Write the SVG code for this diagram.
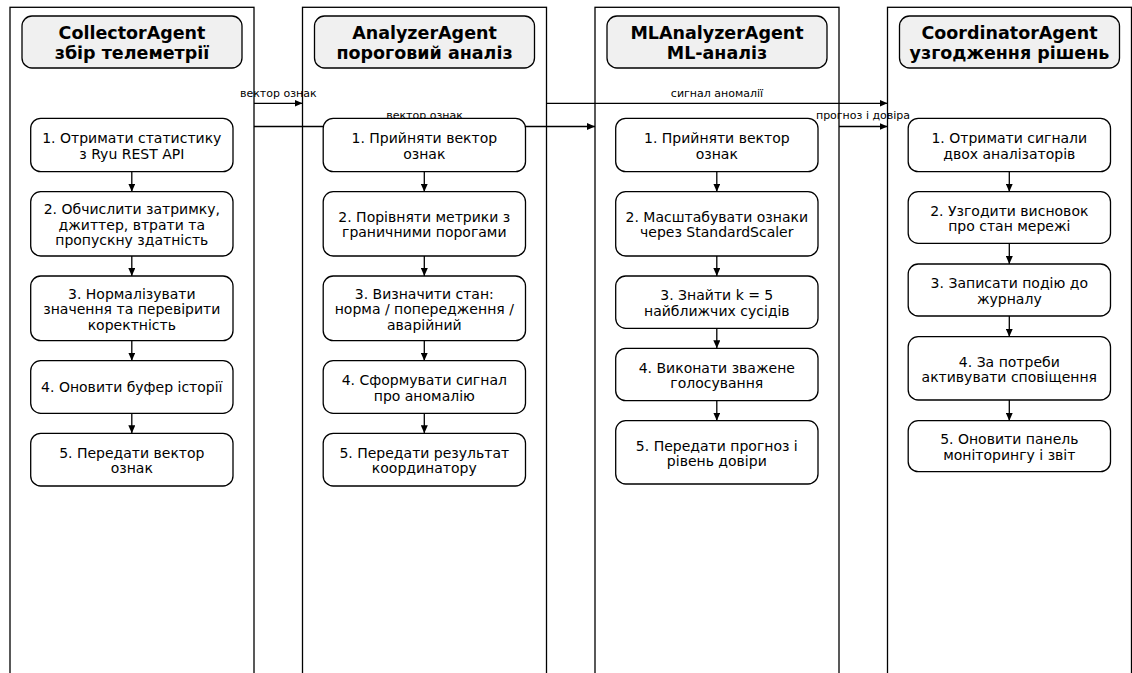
<svg xmlns="http://www.w3.org/2000/svg" width="1132" height="673" viewBox="0 0 1132 673">
  <style>
    .lane { fill: none; stroke: #000; stroke-width: 1.3; }
    .head { fill: #f0f0f0; stroke: #000; stroke-width: 1.3; }
    .step { fill: #fff; stroke: #000; stroke-width: 1.3; }
    .htxt { font-family: "DejaVu Sans", sans-serif; font-weight: bold; font-size: 17.5px; text-anchor: middle; fill: #000; }
    .stxt { font-family: "DejaVu Sans", sans-serif; font-size: 14px; text-anchor: middle; fill: #000; }
    .ltxt { font-family: "DejaVu Sans", sans-serif; font-size: 11px; text-anchor: middle; fill: #000; }
    .flow { fill: none; stroke: #000; stroke-width: 1.3; marker-end: url(#arr); }
  </style>
  <defs>
    <marker id="arr" markerUnits="userSpaceOnUse" markerWidth="8" markerHeight="7" refX="8" refY="3.5" orient="auto">
      <path d="M0,0 L8,3.5 L0,7 Z" fill="#000"/>
    </marker>
  </defs>
  <rect width="1132" height="673" fill="#fff"/>

  <!-- swimlane frames -->
  <g id="lanes">
    <rect class="lane" x="10" y="7.3" width="244" height="700"/>
    <rect class="lane" x="302.5" y="7.3" width="244" height="700"/>
    <rect class="lane" x="595" y="7.3" width="244" height="700"/>
    <rect class="lane" x="887.5" y="7.3" width="244" height="700"/>
  </g>

  <!-- messages between agents and step-to-step flow -->
  <g id="connectors">
    <path class="flow" d="M254,103.3 H302.5"/>
    <text class="ltxt" x="278.3" y="96.5">вектор ознак</text>
    <path class="flow" d="M254,126.5 H595"/>
    <text class="ltxt" x="424.5" y="118.5">вектор ознак</text>
    <path class="flow" d="M546.5,103.3 H887.5"/>
    <text class="ltxt" x="717" y="96.5">сигнал аномалії</text>
    <path class="flow" d="M839,126.5 H887.5"/>
    <text class="ltxt" x="863" y="118.5">прогноз і довіра</text>

    <path class="flow" d="M131.8,171.7 V191.7"/>
    <path class="flow" d="M131.8,256 V276"/>
    <path class="flow" d="M131.8,340.7 V360.7"/>
    <path class="flow" d="M131.8,413.3 V433.3"/>

    <path class="flow" d="M424.3,171.7 V191.7"/>
    <path class="flow" d="M424.3,256 V276"/>
    <path class="flow" d="M424.3,340.7 V360.7"/>
    <path class="flow" d="M424.3,413.3 V433.3"/>

    <path class="flow" d="M716.8,171.7 V191.7"/>
    <path class="flow" d="M716.8,256 V276"/>
    <path class="flow" d="M716.8,328.3 V348.3"/>
    <path class="flow" d="M716.8,400.7 V420.7"/>

    <path class="flow" d="M1009.3,171.7 V191.7"/>
    <path class="flow" d="M1009.3,243.3 V264"/>
    <path class="flow" d="M1009.3,316 V336.7"/>
    <path class="flow" d="M1009.3,400 V420.7"/>
  </g>

  <!-- CollectorAgent -->
  <g id="collector">
    <rect class="head" x="22" y="16" width="220" height="52" rx="10"/>
    <text class="htxt" x="132" y="39.3">CollectorAgent</text>
    <text class="htxt" x="132" y="59.3">збір телеметрії</text>
  </g>
  <g id="collector-s1">
    <rect class="step" x="30.7" y="118.3" width="202.3" height="53.4" rx="10"/>
    <text class="stxt" x="131.8" y="143.2">1. Отримати статистику</text>
    <text class="stxt" x="131.8" y="158.5">з Ryu REST API</text>
  </g>
  <g id="collector-s2">
    <rect class="step" x="30.7" y="191.7" width="202.3" height="64.3" rx="10"/>
    <text class="stxt" x="131.8" y="214.4">2. Обчислити затримку,</text>
    <text class="stxt" x="131.8" y="229.7">джиттер, втрати та</text>
    <text class="stxt" x="131.8" y="245">пропускну здатність</text>
  </g>
  <g id="collector-s3">
    <rect class="step" x="30.7" y="276" width="202.3" height="64.7" rx="10"/>
    <text class="stxt" x="131.8" y="298.9">3. Нормалізувати</text>
    <text class="stxt" x="131.8" y="314.2">значення та перевірити</text>
    <text class="stxt" x="131.8" y="329.5">коректність</text>
  </g>
  <g id="collector-s4">
    <rect class="step" x="30.7" y="360.7" width="202.3" height="52.6" rx="10"/>
    <text class="stxt" x="131.8" y="392.3">4. Оновити буфер історії</text>
  </g>
  <g id="collector-s5">
    <rect class="step" x="30.7" y="433.3" width="202.3" height="52.7" rx="10"/>
    <text class="stxt" x="131.8" y="457.8">5. Передати вектор</text>
    <text class="stxt" x="131.8" y="473.1">ознак</text>
  </g>

  <!-- AnalyzerAgent -->
  <g id="analyzer">
    <rect class="head" x="314.5" y="16" width="220" height="52" rx="10"/>
    <text class="htxt" x="424.5" y="39.3">AnalyzerAgent</text>
    <text class="htxt" x="424.5" y="59.3">пороговий аналіз</text>
  </g>
  <g id="analyzer-s1">
    <rect class="step" x="323.2" y="118.3" width="202.3" height="53.4" rx="10"/>
    <text class="stxt" x="424.3" y="143.2">1. Прийняти вектор</text>
    <text class="stxt" x="424.3" y="158.5">ознак</text>
  </g>
  <g id="analyzer-s2">
    <rect class="step" x="323.2" y="191.7" width="202.3" height="64.3" rx="10"/>
    <text class="stxt" x="424.3" y="222">2. Порівняти метрики з</text>
    <text class="stxt" x="424.3" y="237.3">граничними порогами</text>
  </g>
  <g id="analyzer-s3">
    <rect class="step" x="323.2" y="276" width="202.3" height="64.7" rx="10"/>
    <text class="stxt" x="424.3" y="298.9">3. Визначити стан:</text>
    <text class="stxt" x="424.3" y="314.2">норма / попередження /</text>
    <text class="stxt" x="424.3" y="329.5">аварійний</text>
  </g>
  <g id="analyzer-s4">
    <rect class="step" x="323.2" y="360.7" width="202.3" height="52.6" rx="10"/>
    <text class="stxt" x="424.3" y="385.2">4. Сформувати сигнал</text>
    <text class="stxt" x="424.3" y="400.5">про аномалію</text>
  </g>
  <g id="analyzer-s5">
    <rect class="step" x="323.2" y="433.3" width="202.3" height="52.7" rx="10"/>
    <text class="stxt" x="424.3" y="457.8">5. Передати результат</text>
    <text class="stxt" x="424.3" y="473.1">координатору</text>
  </g>

  <!-- MLAnalyzerAgent -->
  <g id="ml-analyzer">
    <rect class="head" x="607" y="16" width="220" height="52" rx="10"/>
    <text class="htxt" x="717" y="39.3">MLAnalyzerAgent</text>
    <text class="htxt" x="717" y="59.3">ML-аналіз</text>
  </g>
  <g id="ml-analyzer-s1">
    <rect class="step" x="615.7" y="118.3" width="202.3" height="53.4" rx="10"/>
    <text class="stxt" x="716.8" y="143.2">1. Прийняти вектор</text>
    <text class="stxt" x="716.8" y="158.5">ознак</text>
  </g>
  <g id="ml-analyzer-s2">
    <rect class="step" x="615.7" y="191.7" width="202.3" height="64.3" rx="10"/>
    <text class="stxt" x="716.8" y="222">2. Масштабувати ознаки</text>
    <text class="stxt" x="716.8" y="237.3">через StandardScaler</text>
  </g>
  <g id="ml-analyzer-s3">
    <rect class="step" x="615.7" y="276" width="202.3" height="52.3" rx="10"/>
    <text class="stxt" x="716.8" y="300.3">3. Знайти k = 5</text>
    <text class="stxt" x="716.8" y="315.6">найближчих сусідів</text>
  </g>
  <g id="ml-analyzer-s4">
    <rect class="step" x="615.7" y="348.3" width="202.3" height="52.4" rx="10"/>
    <text class="stxt" x="716.8" y="372.7">4. Виконати зважене</text>
    <text class="stxt" x="716.8" y="388">голосування</text>
  </g>
  <g id="ml-analyzer-s5">
    <rect class="step" x="615.7" y="420.7" width="202.3" height="63.3" rx="10"/>
    <text class="stxt" x="716.8" y="450.5">5. Передати прогноз і</text>
    <text class="stxt" x="716.8" y="465.8">рівень довіри</text>
  </g>

  <!-- CoordinatorAgent -->
  <g id="coordinator">
    <rect class="head" x="899.5" y="16" width="220" height="52" rx="10"/>
    <text class="htxt" x="1009.5" y="39.3">CoordinatorAgent</text>
    <text class="htxt" x="1009.5" y="59.3">узгодження рішень</text>
  </g>
  <g id="coordinator-s1">
    <rect class="step" x="908.2" y="118.3" width="202.3" height="53.4" rx="10"/>
    <text class="stxt" x="1009.3" y="143.2">1. Отримати сигнали</text>
    <text class="stxt" x="1009.3" y="158.5">двох аналізаторів</text>
  </g>
  <g id="coordinator-s2">
    <rect class="step" x="908.2" y="191.7" width="202.3" height="51.6" rx="10"/>
    <text class="stxt" x="1009.3" y="215.7">2. Узгодити висновок</text>
    <text class="stxt" x="1009.3" y="231">про стан мережі</text>
  </g>
  <g id="coordinator-s3">
    <rect class="step" x="908.2" y="264" width="202.3" height="52" rx="10"/>
    <text class="stxt" x="1009.3" y="288.2">3. Записати подію до</text>
    <text class="stxt" x="1009.3" y="303.5">журналу</text>
  </g>
  <g id="coordinator-s4">
    <rect class="step" x="908.2" y="336.7" width="202.3" height="63.3" rx="10"/>
    <text class="stxt" x="1009.3" y="366.5">4. За потреби</text>
    <text class="stxt" x="1009.3" y="381.8">активувати сповіщення</text>
  </g>
  <g id="coordinator-s5">
    <rect class="step" x="908.2" y="420.7" width="202.3" height="51" rx="10"/>
    <text class="stxt" x="1009.3" y="444.4">5. Оновити панель</text>
    <text class="stxt" x="1009.3" y="459.7">моніторингу і звіт</text>
  </g>
</svg>
